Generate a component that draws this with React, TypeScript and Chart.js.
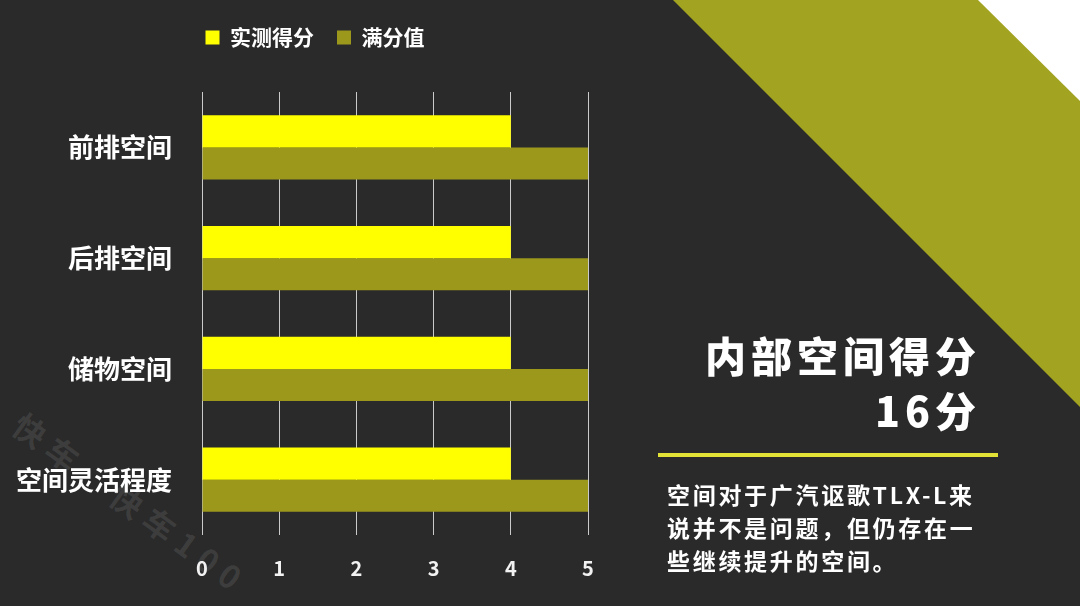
import React, { useEffect, useRef } from "react";
import { Chart, registerables } from "chart.js";

Chart.register(...registerables);

const categories = ["前排空间", "后排空间", "储物空间", "空间灵活程度"];
const measuredScores = [4, 4, 4, 4];
const fullScores = [5, 5, 5, 5];
const seriesNames = ["实测得分", "满分值"];
const xTicks = [0, 1, 2, 3, 4, 5];

const FONT = '"Noto Sans CJK SC", "Noto Sans", sans-serif';

const backgroundPlugin = {
  id: "bgDecor",
  beforeDraw(chart: any) {
    const { ctx, width } = chart;
    ctx.save();
    ctx.fillStyle = "#a2a421";
    ctx.beginPath();
    ctx.moveTo(673, 0);
    ctx.lineTo(width, 0);
    ctx.lineTo(width, 407);
    ctx.closePath();
    ctx.fill();
    ctx.fillStyle = "#ffffff";
    ctx.beginPath();
    ctx.moveTo(978, 0);
    ctx.lineTo(width, 0);
    ctx.lineTo(width, 101);
    ctx.closePath();
    ctx.fill();
    ctx.restore();
  },
};

const legendSpacePlugin = {
  id: "legendSpace",
  beforeInit(chart: any) {
    const legend = chart.legend;
    if (!legend) return;
    const origFit = legend.fit;
    legend.fit = function () {
      origFit.bind(legend)();
      this.height += 34;
    };
  },
  afterLayout(chart: any) {
    if (chart.legend) {
      chart.legend.left = 42;
    }
  },
};

export default function App() {
  const ref = useRef<HTMLCanvasElement | null>(null);

  useEffect(() => {
    if (!ref.current) return;
    const chart = new Chart(ref.current, {
      type: "bar",
      data: {
        labels: categories,
        datasets: [
          {
            label: seriesNames[0],
            data: measuredScores,
            backgroundColor: "#ffff00",
            borderWidth: 0,
            categoryPercentage: 0.58,
            barPercentage: 1.0,
          },
          {
            label: seriesNames[1],
            data: fullScores,
            backgroundColor: "#9c981c",
            borderWidth: 0,
            categoryPercentage: 0.58,
            barPercentage: 1.0,
          },
        ],
      },
      options: {
        indexAxis: "y",
        animation: false,
        responsive: false,
        maintainAspectRatio: false,
        layout: { padding: { left: 0, right: 492, top: 4, bottom: 26 } },
        plugins: {
          tooltip: { enabled: false },
          legend: {
            display: true,
            position: "top",
            labels: {
              color: "#ffffff",
              boxWidth: 14,
              boxHeight: 14,
              padding: 23,
              font: { family: FONT, size: 21, weight: "bold" },
            },
          },
        },
        scales: {
          x: {
            min: 0,
            max: 5,
            afterFit(scale: any) {
              scale.height = 45;
            },
            afterBuildTicks(scale: any) {
              scale.ticks = xTicks.map((v) => ({ value: v }));
            },
            grid: { display: true, color: "#cacaca", lineWidth: 1, drawTicks: false },
            border: { display: false },
            ticks: {
              color: "#f2f2f2",
              padding: 21,
              font: { family: FONT, size: 20, weight: "600" },
            },
          },
          y: {
            afterFit(scale: any) {
              scale.width = 202;
            },
            grid: { display: false, drawTicks: false },
            border: { display: false },
            ticks: {
              color: "#ffffff",
              padding: 30,
              font: { family: FONT, size: 26, weight: "bold" },
            },
          },
        },
      },
      plugins: [backgroundPlugin, legendSpacePlugin],
    });
    return () => chart.destroy();
  }, []);

  return (
    <div
      style={{
        position: "fixed",
        left: 0,
        top: 0,
        width: 1080,
        height: 606,
        overflow: "hidden",
        background: "#2a2a2a",
        fontFamily: FONT,
      }}
    >
      <div
        style={{
          position: "absolute",
          left: 18,
          top: 400,
          height: 40,
          lineHeight: "40px",
          color: "rgba(255,255,255,0.1)",
          fontSize: 32,
          fontWeight: "bold",
          whiteSpace: "nowrap",
          transform: "rotate(36deg)",
          transformOrigin: "left center",
          letterSpacing: 8,
          pointerEvents: "none",
        }}
      >
        快车　快车100
      </div>
      <canvas ref={ref} width={1080} height={606} style={{ position: "absolute", left: 0, top: 0 }} />
      <div
        style={{
          position: "absolute",
          right: 99,
          top: 327,
          color: "#ffffff",
          fontSize: 41,
          fontWeight: 900,
          lineHeight: "55px",
          letterSpacing: 5,
          textAlign: "right",
          whiteSpace: "nowrap",
        }}
      >
        内部空间得分
        <br />
        16分
      </div>
      <div
        style={{
          position: "absolute",
          left: 658,
          top: 453,
          width: 340,
          height: 4,
          background: "#e2e236",
        }}
      />
      <div
        style={{
          position: "absolute",
          left: 667,
          top: 478,
          color: "#ffffff",
          fontSize: 23,
          fontWeight: "bold",
          lineHeight: "33px",
          letterSpacing: 2.7,
          whiteSpace: "nowrap",
        }}
      >
        空间对于广汽讴歌TLX-L来
        <br />
        说并不是问题，但仍存在一
        <br />
        些继续提升的空间。
      </div>
    </div>
  );
}
